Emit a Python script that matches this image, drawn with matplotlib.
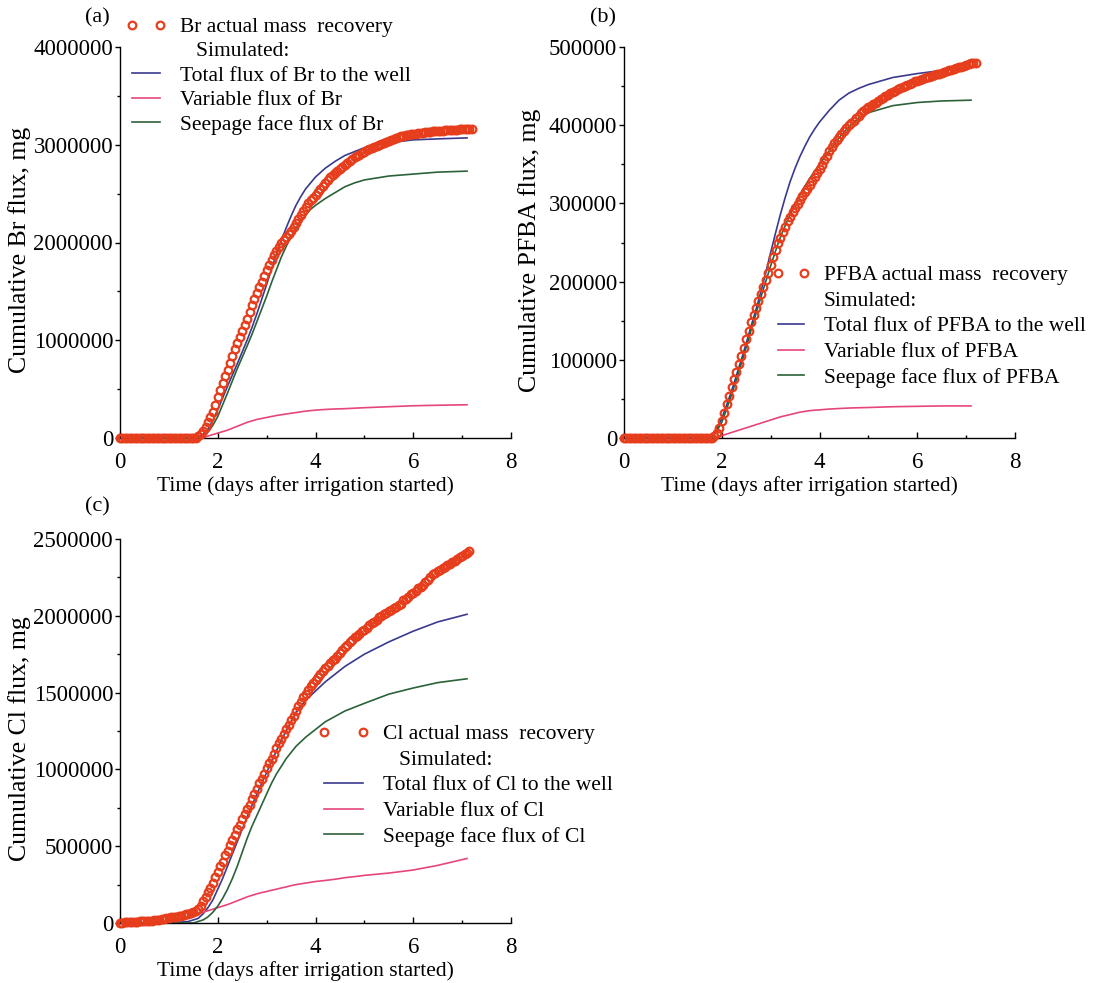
import numpy as np
import matplotlib
matplotlib.use('Agg')
import matplotlib.pyplot as plt
from matplotlib.lines import Line2D
from matplotlib.ticker import MultipleLocator, FormatStrFormatter

plt.rcParams['font.family'] = ['Liberation Serif', 'DejaVu Serif']

# observed cumulative recovery, sampled every 0.05 days from t = 0
obs_step = 0.05

# Br, 10^6 mg
br_obs = [
    0, 0, 0, 0, 0, 0, 0, 0, 0, 0,
    0, 0, 0, 0, 0, 0, 0, 0, 0, 0,
    0, 0, 0, 0, 0, 0, 0, 0, 0, 0,
    0, 0.005, 0.02, 0.04, 0.07, 0.11, 0.16, 0.21, 0.27, 0.34,
    0.42, 0.49, 0.56, 0.63, 0.70, 0.77, 0.84, 0.91, 0.97, 1.03,
    1.09, 1.16, 1.22, 1.29, 1.36, 1.42, 1.48, 1.54, 1.60, 1.66,
    1.72, 1.77, 1.82, 1.87, 1.91, 1.95, 1.99, 2.03, 2.06, 2.09,
    2.12, 2.16, 2.20, 2.24, 2.28, 2.32, 2.36, 2.40, 2.43, 2.46,
    2.49, 2.52, 2.55, 2.58, 2.61, 2.64, 2.67, 2.69, 2.71, 2.73,
    2.75, 2.77, 2.79, 2.81, 2.83, 2.85, 2.87, 2.89, 2.90, 2.92,
    2.93, 2.95, 2.96, 2.97, 2.98, 2.99, 3.00, 3.01, 3.02, 3.03,
    3.04, 3.05, 3.06, 3.07, 3.08, 3.085, 3.09, 3.095, 3.10, 3.105,
    3.11, 3.115, 3.12, 3.12, 3.125, 3.13, 3.13, 3.135, 3.14, 3.14,
    3.14, 3.145, 3.145, 3.15, 3.15, 3.15, 3.155, 3.155, 3.155, 3.16,
    3.16, 3.16, 3.16, 3.165, 3.165,
]

# PFBA, 10^3 mg
pfba_obs = [
    0, 0, 0, 0, 0, 0, 0, 0, 0, 0,
    0, 0, 0, 0, 0, 0, 0, 0, 0, 0,
    0, 0, 0, 0, 0, 0, 0, 0, 0, 0,
    0, 0, 0, 0, 0, 0, 0, 2, 6, 13,
    22, 32, 43, 54, 65, 75, 85, 95, 105, 115,
    126, 137, 148, 157, 166, 175, 184, 193, 202, 211,
    221, 231, 241, 249, 256, 263, 270, 277, 283, 289,
    294, 299, 304, 309, 314, 319, 324, 329, 334, 339,
    344, 349, 355, 361, 367, 372, 377, 381, 385, 389,
    393, 397, 400, 403, 406, 409, 412, 415, 418, 421,
    423, 425, 427, 429, 431, 433, 435, 437, 439, 441,
    443, 444, 446, 447, 449, 450, 452, 453, 454, 456,
    457, 458, 459, 460, 461, 462, 463, 464, 465, 466,
    467, 468, 469, 470, 471, 472, 473, 474, 475, 476,
    477, 478, 479, 479, 480,
]

# Cl, 10^6 mg
cl_obs = [
    0.0, 0.002, 0.004, 0.005, 0.006, 0.007, 0.008, 0.009, 0.010, 0.011,
    0.012, 0.013, 0.015, 0.016, 0.018, 0.020, 0.022, 0.024, 0.027, 0.030,
    0.033, 0.036, 0.039, 0.042, 0.045, 0.048, 0.052, 0.056, 0.060, 0.065,
    0.070, 0.078, 0.09, 0.11, 0.14, 0.17, 0.20, 0.23, 0.26, 0.30,
    0.33, 0.37, 0.40, 0.44, 0.47, 0.51, 0.54, 0.57, 0.61, 0.64,
    0.68, 0.71, 0.74, 0.77, 0.81, 0.84, 0.87, 0.91, 0.94, 0.97,
    1.01, 1.04, 1.07, 1.10, 1.14, 1.17, 1.20, 1.23, 1.26, 1.29,
    1.32, 1.35, 1.38, 1.41, 1.44, 1.47, 1.49, 1.52, 1.54, 1.56,
    1.58, 1.60, 1.62, 1.64, 1.66, 1.67, 1.69, 1.71, 1.72, 1.74,
    1.76, 1.78, 1.80, 1.81, 1.83, 1.84, 1.86, 1.87, 1.88, 1.90,
    1.91, 1.92, 1.94, 1.95, 1.96, 1.97, 1.99, 2.00, 2.01, 2.02,
    2.03, 2.04, 2.05, 2.06, 2.07, 2.08, 2.10, 2.11, 2.12, 2.14,
    2.15, 2.16, 2.18, 2.19, 2.20, 2.22, 2.23, 2.25, 2.27, 2.28,
    2.29, 2.30, 2.31, 2.32, 2.33, 2.34, 2.35, 2.36, 2.37, 2.38,
    2.39, 2.40, 2.41, 2.42,
]

# simulated fluxes, same units as the observations above
sim_days = [0, 0.5, 1.0, 1.2, 1.4,
            1.5, 1.6, 1.7, 1.8, 1.9,
            2.0, 2.1, 2.2, 2.3, 2.4,
            2.5, 2.6, 2.7, 2.8, 2.9,
            3.0, 3.1, 3.2, 3.3, 3.4,
            3.5, 3.6, 3.7, 3.8, 3.9,
            4.0, 4.2, 4.4, 4.6, 4.8,
            5.0, 5.5, 6.0, 6.5, 7.1]

br_total = [0, 0, 0, 0, 0,
            0, 0.01, 0.04, 0.09, 0.18,
            0.29, 0.41, 0.53, 0.645, 0.76,
            0.88, 1.00, 1.13, 1.27, 1.42,
            1.57, 1.73, 1.88, 2.02, 2.15,
            2.27, 2.38, 2.47, 2.55, 2.61,
            2.67, 2.76, 2.83, 2.89, 2.93,
            2.97, 3.02, 3.05, 3.06, 3.07]
br_variable = [0, 0, 0, 0, 0,
               0, 0, 0.005, 0.02, 0.035,
               0.05, 0.065, 0.08, 0.10, 0.12,
               0.14, 0.16, 0.175, 0.19, 0.20,
               0.21, 0.22, 0.23, 0.238, 0.245,
               0.253, 0.26, 0.268, 0.275, 0.28,
               0.285, 0.292, 0.297, 0.30, 0.305,
               0.31, 0.32, 0.33, 0.335, 0.34]
br_seepage = [0, 0, 0, 0, 0,
              0, 0, 0.02, 0.06, 0.13,
              0.22, 0.34, 0.46, 0.585, 0.71,
              0.825, 0.94, 1.06, 1.19, 1.32,
              1.45, 1.59, 1.72, 1.85, 1.96,
              2.06, 2.14, 2.22, 2.28, 2.34,
              2.38, 2.45, 2.51, 2.57, 2.61,
              2.64, 2.68, 2.70, 2.72, 2.73]

pfba_total = [0, 0, 0, 0, 0,
              0, 0, 0, 3, 12,
              25, 42, 60, 80, 100,
              121, 143, 164, 187, 211,
              237, 262, 286, 308, 328,
              345, 360, 373, 385, 395,
              404, 419, 432, 441, 447,
              452, 461, 466, 470, 473]
pfba_variable = [0, 0, 0, 0, 0,
                 0, 0, 0, 0, 1,
                 3, 5, 7, 9, 11,
                 13, 15, 17, 19, 21,
                 23, 25, 27, 28.5, 30,
                 31.5, 33, 34, 35, 35.5,
                 36, 37, 37.7, 38.3, 38.7,
                 39, 40, 40.5, 41, 41]
pfba_seepage = [0, 0, 0, 0, 0,
                0, 0, 0, 2, 9,
                20, 37, 55, 75, 95,
                116, 138, 159, 180, 200,
                220, 239, 257, 272, 286,
                299, 311, 322, 332, 341,
                350, 367, 384, 398, 409,
                416, 425, 429, 431, 432]

cl_total = [0, 0, 0, 0.005, 0.01,
            0.02, 0.03, 0.06, 0.10, 0.15,
            0.22, 0.29, 0.37, 0.45, 0.53,
            0.61, 0.69, 0.765, 0.84, 0.91,
            0.98, 1.05, 1.12, 1.19, 1.25,
            1.31, 1.37, 1.41, 1.45, 1.48,
            1.51, 1.57, 1.62, 1.67, 1.71,
            1.75, 1.83, 1.90, 1.96, 2.01]
cl_variable = [0, 0, 0.01, 0.025, 0.04,
               0.05, 0.06, 0.07, 0.08, 0.09,
               0.10, 0.11, 0.12, 0.132, 0.145,
               0.157, 0.17, 0.18, 0.19, 0.198,
               0.205, 0.213, 0.22, 0.228, 0.235,
               0.243, 0.25, 0.255, 0.26, 0.265,
               0.27, 0.277, 0.285, 0.295, 0.302,
               0.31, 0.325, 0.345, 0.375, 0.42]
cl_seepage = [0, 0, 0, 0, 0,
              0, 0.01, 0.02, 0.04, 0.07,
              0.11, 0.16, 0.22, 0.29, 0.37,
              0.46, 0.55, 0.63, 0.70, 0.77,
              0.84, 0.91, 0.97, 1.02, 1.07,
              1.11, 1.15, 1.18, 1.21, 1.235,
              1.26, 1.31, 1.345, 1.38, 1.405,
              1.43, 1.49, 1.53, 1.565, 1.59]

OBS_C = '#e63e1c'
TOTAL_C = '#3a3a8e'
VAR_C = '#e6467a'
SEEP_C = '#2b623a'
FS = 15.5
MARK = dict(ls='none', marker='o', ms=5.5, mfc='none', mec=OBS_C, mew=1.6)

W, H = 1100, 983
fig = plt.figure(figsize=(W / 100, H / 100), dpi=100)


def panel(rect, obs, scale, sim, ion, ymax, ystep, ylabel, leg_xy, leg_len,
          leg_gap, sim_label, ylab_x):
    ax = fig.add_axes([rect[0] / W, 1 - rect[1] / H, rect[2] / W, rect[3] / H])
    total, variable, seepage = [np.asarray(s) * scale for s in sim]
    obs = np.asarray(obs) * scale
    obs_days = np.arange(len(obs)) * obs_step

    ax.plot(sim_days, total, color=TOTAL_C, lw=1.2, clip_on=False)
    ax.plot(sim_days, variable, color=VAR_C, lw=1.2, clip_on=False)
    ax.plot(sim_days, seepage, color=SEEP_C, lw=1.2, clip_on=False)
    ax.plot(obs_days, obs, clip_on=False, zorder=3, **MARK)

    ax.set_xlim(0, 8)
    ax.set_ylim(0, ymax)
    ax.xaxis.set_major_locator(MultipleLocator(2))
    ax.xaxis.set_minor_locator(MultipleLocator(1))
    ax.yaxis.set_major_locator(MultipleLocator(ystep))
    ax.yaxis.set_minor_locator(MultipleLocator(ystep / 2))
    ax.yaxis.set_major_formatter(FormatStrFormatter('%d'))
    for s in ('top', 'right'):
        ax.spines[s].set_visible(False)
    for s in ('left', 'bottom'):
        ax.spines[s].set_linewidth(1.0)
    ax.tick_params(axis='x', which='major', direction='in', length=4, width=1,
                   labelsize=16.5, pad=10)
    ax.tick_params(axis='x', which='minor', direction='in', length=2.5, width=1)
    ax.tick_params(axis='y', which='major', direction='out', length=3.5, width=1,
                   labelsize=16.5, pad=1.5)
    ax.tick_params(axis='y', which='minor', direction='out', length=2, width=1)

    ax.set_xlabel('Time (days after irrigation started)', fontsize=FS, va='top')
    ax.xaxis.set_label_coords(0.475, -38 / rect[3])
    ax.set_ylabel(ylabel, fontsize=18.5)
    ax.yaxis.set_label_coords(ylab_x, 0.48)

    handles = [
        Line2D([], [], label=f'{ion} actual mass  recovery', **MARK),
        Line2D([], [], ls='none', label=sim_label),
        Line2D([], [], color=TOTAL_C, lw=1.2, label=f'Total flux of {ion} to the well'),
        Line2D([], [], color=VAR_C, lw=1.2, label=f'Variable flux of {ion}'),
        Line2D([], [], color=SEEP_C, lw=1.2, label=f'Seepage face flux of {ion}'),
    ]
    ax.legend(handles=handles, loc='upper left',
              bbox_to_anchor=(leg_xy[0] / W, 1 - leg_xy[1] / H),
              bbox_transform=fig.transFigure, frameon=False, borderpad=0,
              borderaxespad=0, handlelength=leg_len, handletextpad=0.6,
              labelspacing=leg_gap, numpoints=2, fontsize=FS)
    return ax


panel((120, 438, 391, 391), br_obs, 1e6, (br_total, br_variable, br_seepage),
      'Br', 4000000, 1000000, 'Cumulative Br flux, mg', (126, 17), 1.9, 0.2,
      '   Simulated:', -0.228)
panel((624, 438, 391, 391), pfba_obs, 1e3, (pfba_total, pfba_variable, pfba_seepage),
      'PFBA', 500000, 100000, 'Cumulative PFBA flux, mg', (772, 265), 1.8, 0.26,
      'Simulated:', -0.212)
panel((120, 923, 391, 384), cl_obs, 1e6, (cl_total, cl_variable, cl_seepage),
      'Cl', 2500000, 500000, 'Cumulative Cl flux, mg', (318, 724), 2.4, 0.26,
      '   Simulated:', -0.228)

for lab, x, y in (('(a)', 97, 18), ('(b)', 603, 18), ('(c)', 97, 507)):
    fig.text(x / W, 1 - y / H, lab, ha='center', va='center', fontsize=16)

fig.savefig('out.png', dpi=100)
